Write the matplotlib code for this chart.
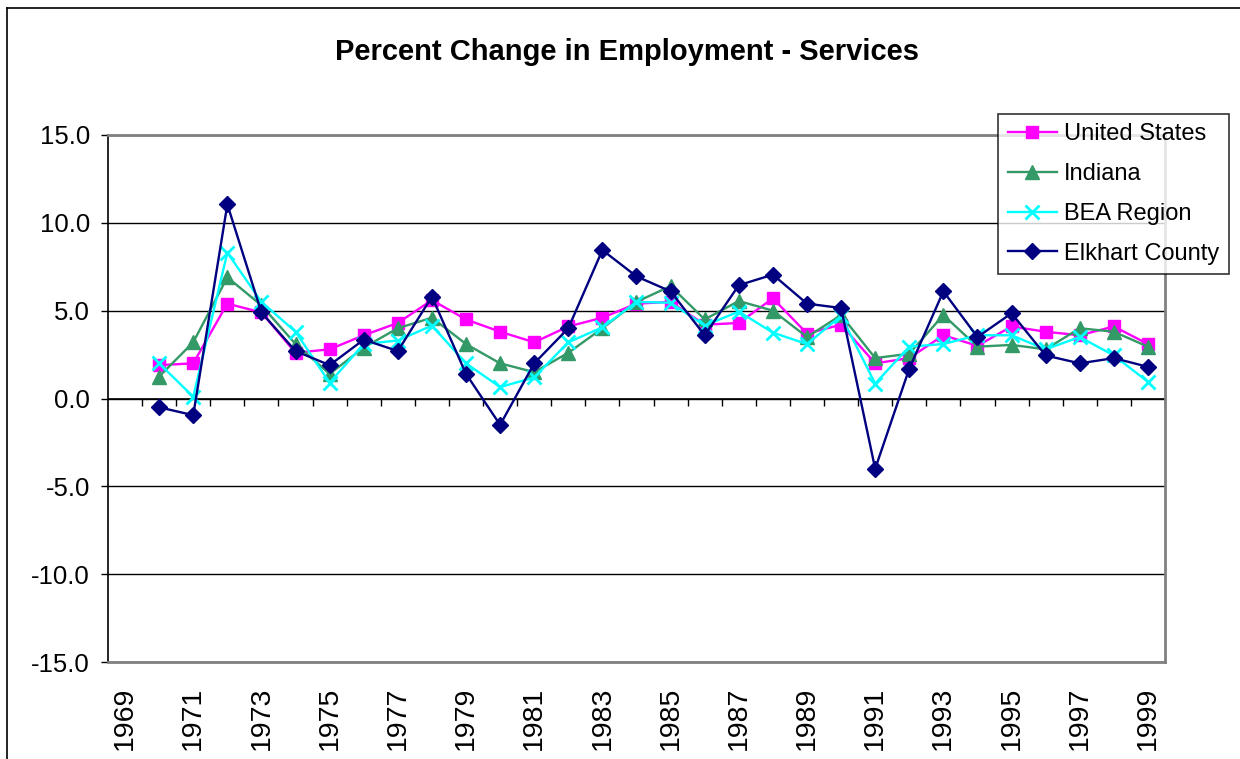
import matplotlib
matplotlib.use("Agg")
import matplotlib.pyplot as plt
import numpy as np
from matplotlib.lines import Line2D
from matplotlib.ticker import FormatStrFormatter

plt.rcParams["font.family"] = ["Liberation Sans", "DejaVu Sans"]

# category axis 1969..1999, data starts in 1970
years = list(range(1969, 2000))
data_years = list(range(1970, 2000))

united_states = [1.9, 2.0, 5.4, 4.9, 2.6, 2.8, 3.6, 4.3, 5.6, 4.5,
                 3.8, 3.2, 4.1, 4.6, 5.4, 5.5, 4.2, 4.3, 5.7, 3.7,
                 4.2, 2.0, 2.3, 3.6, 3.0, 4.1, 3.8, 3.6, 4.1, 3.1]
indiana = [1.25, 3.2, 6.9, 5.3, 3.1, 1.4, 2.9, 4.0, 4.6, 3.1,
           2.0, 1.5, 2.6, 4.0, 5.5, 6.4, 4.5, 5.55, 5.0, 3.5,
           4.75, 2.3, 2.55, 4.75, 2.95, 3.05, 2.8, 4.0, 3.8, 2.95]
bea_region = [2.0, 0.1, 8.3, 5.5, 3.8, 0.9, 3.1, 3.3, 4.15, 2.0,
              0.65, 1.2, 3.2, 4.05, 5.5, 5.45, 4.15, 4.95, 3.75, 3.1,
              4.7, 0.85, 2.95, 3.1, 3.6, 3.6, 2.8, 3.5, 2.45, 0.95]
elkhart = [-0.5, -0.95, 11.05, 4.9, 2.7, 1.9, 3.35, 2.7, 5.8, 1.4,
           -1.5, 2.0, 4.0, 8.45, 6.95, 6.1, 3.6, 6.45, 7.05, 5.4,
           5.15, -4.0, 1.7, 6.1, 3.5, 4.85, 2.45, 2.0, 2.3, 1.8]

series = [
    ("United States", united_states, "#FF00FF", "s", 9, {}),
    ("Indiana", indiana, "#339966", "^", 10, {}),
    ("BEA Region", bea_region, "#00FFFF", "x", 10, {"markeredgewidth": 2}),
    ("Elkhart County", elkhart, "#000080", "D", 8.5, {}),
]

W, H = 1240, 759
fig = plt.figure(figsize=(W / 100, H / 100), dpi=100)
ax = fig.add_axes([108 / W, 1 - 662 / H, 1057 / W, 527 / H])

pos = {y: i for i, y in enumerate(years)}
xs = [pos[y] for y in data_years]

for name, vals, color, marker, ms, extra in series:
    ax.plot(xs, vals, color=color, lw=1.7, marker=marker, markersize=ms,
            markerfacecolor=color, markeredgecolor=color, label=name,
            zorder=3, clip_on=False, **extra)

ax.set_xlim(-0.5, len(years) - 0.5)
ax.set_ylim(-15, 15)
ax.set_yticks(np.arange(-15, 16, 5))
ax.yaxis.set_major_formatter(FormatStrFormatter("%.1f"))
ax.yaxis.grid(True, color="black", lw=1)
ax.set_axisbelow(True)

for side in ("top", "right", "bottom"):
    ax.spines[side].set_color("#808080")
    ax.spines[side].set_linewidth(2)
ax.spines["left"].set_color("black")
ax.spines["left"].set_linewidth(1.2)

ax.tick_params(axis="y", length=5, width=1, direction="out", pad=8, labelsize=18.5)
ax.set_xticks(range(len(years)))
ax.set_xticklabels([str(y) if (y - years[0]) % 2 == 0 else "" for y in years], rotation=90)
ax.tick_params(axis="x", length=0, pad=18, labelsize=20.5)

# category axis crossing at zero, with tick marks between categories
ax.axhline(0, color="black", lw=1.2, zorder=2)
bounds = np.arange(-0.5, len(years), 1.0)
ax.vlines(bounds[1:], -0.45, 0, color="black", lw=1, zorder=2)

leg = ax.legend(loc="upper right", bbox_to_anchor=(1229 / W, 1 - 114 / H),
                bbox_transform=fig.transFigure, frameon=True, fancybox=False,
                edgecolor="black", fontsize=17, handlelength=2.1,
                handletextpad=0.3, labelspacing=0.75, borderpad=0.4,
                borderaxespad=0)
leg.get_frame().set_linewidth(1.2)

fig.text(627 / W, 1 - 52 / H, "Percent Change in Employment - Services",
         ha="center", va="center", fontsize=21, fontweight="bold")

# chart area frame (runs off the right and bottom edge)
fig.add_artist(Line2D([7 / W, 7 / W], [0, 1 - 8 / H], transform=fig.transFigure, color="black", lw=1.2))
fig.add_artist(Line2D([7 / W, 1], [1 - 8 / H, 1 - 8 / H], transform=fig.transFigure, color="black", lw=1.2))

fig.savefig("out.png", dpi=100)
plt.close(fig)
